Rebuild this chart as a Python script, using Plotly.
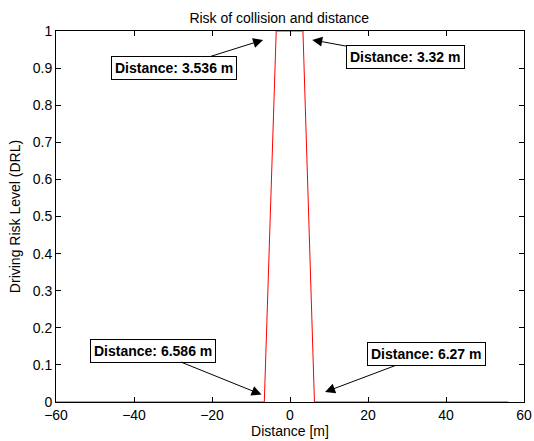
import plotly.graph_objects as go

# curve: driving risk level vs distance
dist = [-60, -6.586, -3.536, 3.32, 6.27, 56]
drl = [0, 0, 1, 1, 0, 0]

# annotation labels and arrow tip positions
labels = ["Distance: 3.536 m", "Distance: 3.32 m", "Distance: 6.586 m", "Distance: 6.27 m"]
tip_x = [-6.9, 5.7, -7.3, 9.0]
tip_y = [0.976, 0.976, 0.02, 0.027]
off_x = [-89, 93, -109, 101]
off_y = [28, 17, -44, -38]

fig = go.Figure()
fig.add_trace(go.Scatter(x=dist, y=drl, mode="lines",
                         line=dict(color="#ff0000", width=1)))

for t, x, y, ax, ay in zip(labels, tip_x, tip_y, off_x, off_y):
    fig.add_annotation(x=x, y=y, ax=ax, ay=ay, text="<b>" + t + "</b>",
                       showarrow=True, arrowhead=2, arrowsize=2, arrowwidth=1,
                       arrowcolor="black", bordercolor="black", borderwidth=1,
                       borderpad=3, bgcolor="white",
                       font=dict(size=14, color="black", family="Liberation Sans"))

axis_common = dict(showgrid=False, zeroline=False, showline=True, linecolor="black",
                   linewidth=1, mirror="ticks", ticks="inside", ticklen=5,
                   tickcolor="black", automargin=False,
                   tickfont=dict(size=14, color="black"))

fig.update_xaxes(range=[-60, 60], tickvals=[-60, -40, -20, 0, 20, 40, 60],
                 ticktext=["\u221260", "\u221240", "\u221220", "0", "20", "40", "60"],
                 title=dict(text="Distance [m]", font=dict(size=14, color="black"), standoff=0),
                 **axis_common)
fig.update_yaxes(range=[0, 1], dtick=0.1,
                 title=dict(text="Driving Risk Level (DRL)", font=dict(size=14, color="black"), standoff=8),
                 **axis_common)

fig.update_layout(width=534, height=441, showlegend=False,
                  plot_bgcolor="white", paper_bgcolor="white",
                  font=dict(family="Liberation Sans, Arial", color="black"),
                  title=dict(text="Risk of collision and distance", x=0.523, xanchor="center",
                             y=0.97, font=dict(size=14, color="black")),
                  margin=dict(l=56, r=10, t=31, b=39, autoexpand=False))

# drop the default page margin so the figure sits at the window origin
fig.write_html("out.html", config={"displayModeBar": False},
               post_script="document.body.style.margin='0';")
